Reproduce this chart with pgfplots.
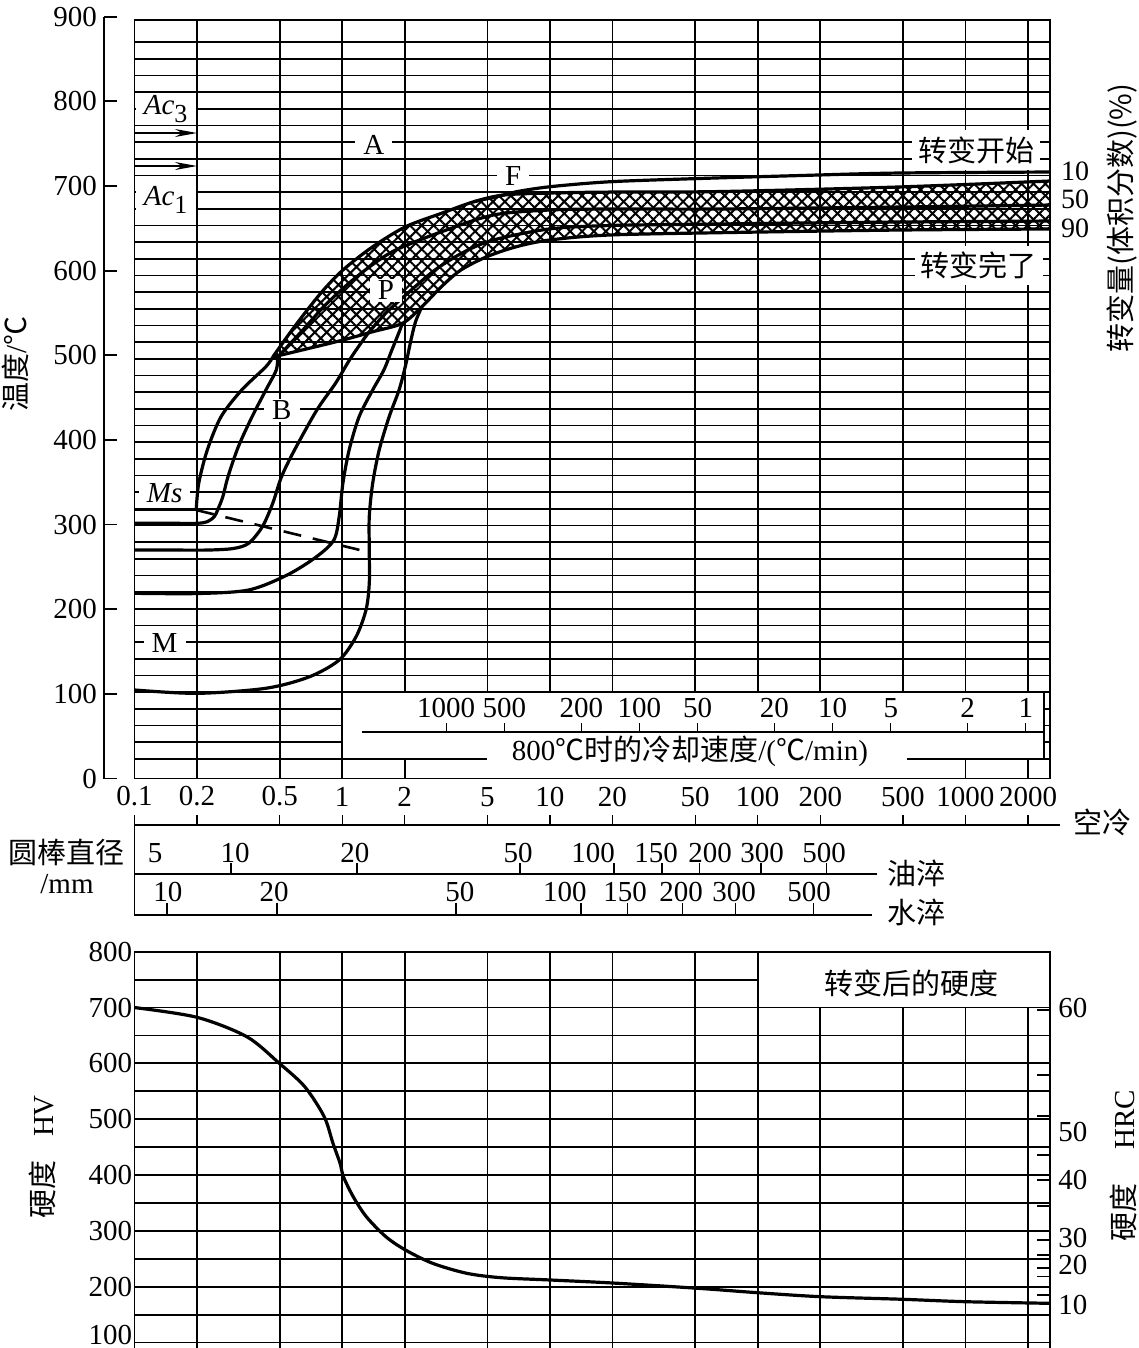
\documentclass[border=0pt]{standalone}
\usepackage{fontspec}
\setmainfont{Liberation Serif}
\newfontfamily\cjk{Noto Sans CJK SC}
\usepackage{pgfplots}
\pgfplotsset{compat=1.18}
\usetikzlibrary{patterns.meta,arrows.meta}

\newcommand\fs{\fontsize{14.5}{17}\selectfont}

\pgfplotsset{
  /pgf/number format/assume math mode=true,
  every axis/.append style={scale only axis},
  tick label style={font=\fs},
  gbox/.style={
    xtick={0.2,0.5,1,2,5,10,20,50,100,200,500,1000,2000},
    xticklabels={},
    major tick length=0pt, minor tick length=0pt,
    axis line style={line width=0.9pt},
    major grid style={black, line width=0.9pt},
    minor grid style={black, line width=0.9pt},
  },
  srow/.style={
    ymin=0, ymax=1, height=4pt, anchor=north west, clip=false,
    axis x line*=top, axis y line=none, xticklabels={},
    minor tick length=0pt,
    tick align=outside, tick style={black, line width=0.6pt},
    axis line style={line width=0.9pt},
  },
  curve/.style={black, line width=1.6pt, smooth, no markers},
}
\tikzset{lbl/.style={fill=white, inner xsep=4pt, inner ysep=1pt}}

\begin{document}
\begin{tikzpicture}[font=\fs]
\path[use as bounding box] (0,0) rectangle (569.5pt,-674pt);

% ---------- CCT diagram (grid) ----------
\begin{axis}[xmode=log, xmin=0.1, xmax=2553, width=457.775pt, gbox,
  at={(67.225pt,-389.25pt)}, anchor=south west,
  ymin=0, ymax=896.1, height=379.25pt,
  ytick={23.2,42.89,...,875}, yticklabels={}, grid=major]

  % hatched pearlite band (upper boundary, then lower boundary back)
  \addplot[draw=none, pattern={Hatch[angle=45,distance=4.2pt,line width=1pt]}]
    coordinates {
    (0.463,497.9) (0.5895,533.8) (0.7876,573.2) (1.0077,600.7) (1.402,628.2)
    (2.021,651.9) (3.002,667.7) (4.299,681.4) (5.963,689.3) (9.89,691.7)
    (19.38,692.8) (64.67,693.4) (473.2,698.8) (2553,705.9)
    (2553,649.2) (489,648.0) (72.33,645.0) (19.38,642.1) (9.97,636.2)
    (6.88,628.2) (4.963,616.4) (3.726,600.7) (3.002,581.0) (2.420,557.4)
    (1.950,537.8) (1.402,527.8) (1.0077,518.0) (0.6404,506.2) (0.463,497.9)} -- cycle;

  % band boundaries
  \addplot[curve] coordinates {
    (0.463,497.9) (0.5895,533.8) (0.7876,573.2) (1.0077,600.7) (1.402,628.2)
    (2.021,651.9) (3.002,667.7) (4.299,681.4) (5.963,689.3) (9.89,691.7)
    (19.38,692.8) (64.67,693.4) (473.2,698.8) (2553,705.9)};
  \addplot[curve] coordinates {
    (0.463,497.9) (0.6404,506.2) (1.0077,518.0) (1.402,527.8) (1.950,537.8)
    (2.420,557.4) (3.002,581.0) (3.726,600.7) (4.963,616.4) (6.88,628.2)
    (9.97,636.2) (19.38,642.1) (72.33,645.0) (489,648.0) (2553,649.2)};

  % transformation start (10 %)
  \addplot[curve] coordinates {
    (4.299,681.4) (5.963,689.3) (6.88,693.2) (9.97,699.1) (19.38,705.0)
    (51.7,708.8) (157,712.3) (473.2,715.3) (2553,716.5)};
  % inner lines
  \addplot[curve] coordinates {
    (0.4887,497.9) (0.6404,528.7) (0.8204,558.2) (1.080,585.4) (1.391,606.6)
    (1.811,624.4) (3.012,646.0) (5.342,665.7) (9.89,671.6) (19.38,672.8)
    (64.67,672.8) (473.2,675.1) (2553,677.5)};
  \addplot[curve] coordinates {
    (1.346,527.5) (1.623,549.9) (2.021,571.2) (2.794,600.7) (3.860,622.0)
    (5.342,636.2) (9.89,649.2) (19.38,653.3) (64.67,655.1) (473.2,657.4)
    (2553,658.6)};

  % lower curves
  \addplot[black, line width=1.6pt] coordinates {(0.1,317.4) (0.1983,317.4)};
  \addplot[curve] coordinates {
    (0.1983,317.2) (0.2039,348.7) (0.2242,388.1) (0.2611,427.4) (0.3284,459.0)
    (0.4293,486.5) (0.463,497.9)};
  \addplot[curve] coordinates {
    (0.1,301.5) (0.15,301.5) (0.2,301.5) (0.2242,303.4) (0.2421,309.3)
    (0.2514,317.2) (0.2663,332.9) (0.2820,356.5) (0.3163,392.0) (0.3683,427.4)
    (0.4293,459.0) (0.4816,482.6) (0.4887,497.9)};
  \addplot[curve] coordinates {
    (0.1,269.9) (0.15,269.9) (0.2242,269.9) (0.2986,271.7) (0.3545,277.9)
    (0.4128,297.5) (0.4630,325.1) (0.5104,356.5) (0.5895,388.1) (0.7551,435.3)
    (0.9284,466.9) (1.084,494.4) (1.232,514.5) (1.346,527.5)};
  \addplot[curve] coordinates {
    (0.1,218.8) (0.2,218.5) (0.3545,222.7) (0.5433,240.4) (0.7523,262.0)
    (0.9121,281.8) (0.9672,309.3) (1.0077,348.7) (1.080,388.1) (1.206,427.4)
    (1.402,459.0) (1.587,482.6) (1.734,506.2) (1.872,526.3) (1.950,537.8)};
  \addplot[curve] coordinates {
    (0.1,104.6) (0.2,100.6) (0.4293,106.6) (0.6959,120.2) (0.9672,140.0)
    (1.166,167.5) (1.302,199.1) (1.350,230.6) (1.350,269.9) (1.350,309.3)
    (1.402,348.7) (1.507,388.1) (1.683,427.4) (1.878,459.0) (2.021,488.5)
    (2.133,515.7) (2.252,539.3) (2.420,557.4)};
  % Ms
  \addplot[black, line width=1.3pt, dash pattern=on 9pt off 6pt]
    coordinates {(0.1983,317.2) (1.331,267.6)};

  % Ac3 / Ac1
  \node[fill=white, minimum width=30pt, minimum height=14pt, inner sep=0pt]
    at (axis cs:0.1414,791) {\textit{Ac}\raisebox{-4pt}{\fontsize{13}{14}\selectfont 3}};
  \node[fill=white, minimum width=30pt, minimum height=16pt, inner sep=0pt]
    at (axis cs:0.1414,684) {\textit{Ac}\raisebox{-4pt}{\fontsize{13}{14}\selectfont 1}};
  \draw[line width=0.7pt, -{Stealth[length=11pt,width=4pt]}] (axis cs:0.1,762.6) -- (axis cs:0.2,762.6);
  \draw[line width=0.7pt, -{Stealth[length=11pt,width=4pt]}] (axis cs:0.1,723.6) -- (axis cs:0.2,723.6);

  % cooling-rate box
  \fill[white] (axis cs:1,23.2) rectangle (axis cs:2390,102.0);
  \draw[line width=0.9pt] (axis cs:1,23.2) rectangle (axis cs:2390,102.0);
  \fill[white] (axis cs:4.977,1) rectangle (axis cs:521.9,45.5);
  \node at (axis cs:47.2,32.5) {800{\cjk ℃时的冷却速度}/({\cjk ℃}/min)};

  % labels
  \node[lbl] at (axis cs:1.422,748.4) {A};
  \node[lbl] at (axis cs:6.656,711.8) {F};
  \node[lbl] at (axis cs:1.623,577.1) {P};
  \node[lbl] at (axis cs:0.5124,435.3) {B};
  \node[lbl] at (axis cs:0.1397,337.3) {\textit{Ms}};
  \node[lbl] at (axis cs:0.1397,160.1) {M};
  \node[fill=white, inner xsep=3pt, inner ysep=3pt] at (axis cs:1130,742.5) {\cjk 转变开始};
  \node[fill=white, inner xsep=3pt, inner ysep=3pt] at (axis cs:1162,606.6) {\cjk 转变完了};
\end{axis}

% temperature tick axis
\begin{axis}[at={(52pt,-389.25pt)}, anchor=south west, width=20pt, height=380.925pt,
  xmin=0, xmax=1, ymin=0, ymax=900, axis y line*=left, axis x line=none, clip=false,
  ytick={0,100,...,900}, tick align=inside, major tick length=6.5pt,
  axis line style={line width=0.9pt}, tick style={black, line width=0.9pt}]
\end{axis}

% cooling rate at 800 C
\begin{axis}[xmode=log, srow, x dir=reverse, xmin=0.805, xmax=2728, width=341pt,
  at={(181pt,-365.85pt)}, xtick={1,2,5,10,20,50,100,200,500,1000},
  major tick length=4.3pt]
  \pgfplotsinvokeforeach{1,2,5,10,20,50,100,200,500,1000}{
    \node[anchor=south, inner sep=0pt, yshift=6.8pt] at (axis cs:#1,1) {#1};}
\end{axis}

% air cooling
\begin{axis}[xmode=log, srow, xmin=0.1, xmax=2851, width=462.775pt, at={(67.225pt,-412.5pt)},
  xtick={0.1,0.2,0.5,1,2,5,10,20,50,100,200,500,1000,2000},
  major tick length=5pt, axis line style={line width=1.3pt}]
  \pgfplotsinvokeforeach{0.1,0.2,0.5,1,2,5,10,20,50,100,200,500,1000,2000}{
    \node[anchor=south, inner sep=0pt, yshift=9.15pt] at (axis cs:#1,1) {#1};}
\end{axis}

% oil quench
\begin{axis}[xmode=log, srow, xmin=0.1, xmax=374.8, width=371.275pt, at={(67.225pt,-437pt)},
  xtick={0.2915,1.178,7.177,20.34,34.62,52.19,103.7,213.2},
  major tick length=5.5pt]
  \node[anchor=south, inner sep=0pt, yshift=5.35pt] at (axis cs:0.1256,1) {5};
  \node[anchor=south, inner sep=0pt, yshift=5.35pt] at (axis cs:0.3048,1) {10};
  \node[anchor=south, inner sep=0pt, yshift=5.35pt] at (axis cs:1.152,1) {20};
  \node[anchor=south, inner sep=0pt, yshift=5.35pt] at (axis cs:7.020,1) {50};
  \node[anchor=south, inner sep=0pt, yshift=5.35pt] at (axis cs:16.12,1) {100};
  \node[anchor=south, inner sep=0pt, yshift=5.35pt] at (axis cs:32.40,1) {150};
  \node[anchor=south, inner sep=0pt, yshift=5.35pt] at (axis cs:58.95,1) {200};
  \node[anchor=south, inner sep=0pt, yshift=5.35pt] at (axis cs:104.9,1) {300};
  \node[anchor=south, inner sep=0pt, yshift=5.35pt] at (axis cs:208.5,1) {500};
\end{axis}

% water quench
\begin{axis}[xmode=log, srow, xmin=0.1, xmax=354.4, width=368.775pt, at={(67.225pt,-457.5pt)},
  xtick={0.1434,0.4855,3.527,14.09,23.49,43.21,77.75,184.6},
  major tick length=6pt]
  \node[anchor=south, inner sep=0pt, yshift=6.65pt] at (axis cs:0.1450,1) {10};
  \node[anchor=south, inner sep=0pt, yshift=6.65pt] at (axis cs:0.4695,1) {20};
  \node[anchor=south, inner sep=0pt, yshift=6.65pt] at (axis cs:3.686,1) {50};
  \node[anchor=south, inner sep=0pt, yshift=6.65pt] at (axis cs:11.80,1) {100};
  \node[anchor=south, inner sep=0pt, yshift=6.65pt] at (axis cs:22.95,1) {150};
  \node[anchor=south, inner sep=0pt, yshift=6.65pt] at (axis cs:42.74,1) {200};
  \node[anchor=south, inner sep=0pt, yshift=6.65pt] at (axis cs:76.89,1) {300};
  \node[anchor=south, inner sep=0pt, yshift=6.65pt] at (axis cs:176.6,1) {500};
\end{axis}
\draw[line width=0.9pt] (67.225pt,-412.5pt) -- (67.225pt,-457.5pt);

% ---------- hardness ----------
\begin{axis}[xmode=log, xmin=0.1, xmax=2553, width=457.775pt, gbox,
  at={(67.225pt,-475.85pt)}, anchor=north west,
  ymin=85, ymax=800, height=199.59pt,
  ytick={200,300,...,800}, minor ytick={150,250,...,750},
  extra y ticks={100}, extra y tick style={yticklabel style={yshift=4pt}},
  xmajorgrids, ymajorgrids, yminorgrids,
  yticklabel style={inner sep=1pt}]
  \addplot[curve] coordinates {
    (0.1,700) (0.2,682.5) (0.3472,647.8) (0.4981,600.1) (0.6604,558.2)
    (0.8191,504.5) (0.9029,456.8) (0.9768,421) (1.014,397) (1.130,361.2)
    (1.307,325.3) (1.623,289.5) (2.016,265.7) (2.724,241.9) (3.975,224)
    (5.811,216.1) (10,212) (20,206.6) (51.68,197.1) (100,189.2)
    (200,182.1) (500,177.4) (1000,173.1) (2553,170.2)};
  \fill[white] (axis cs:100,700) rectangle (axis cs:2553,800);
  \draw[line width=0.9pt] (axis cs:100,700) rectangle (axis cs:2553,800);
  \node at (axis cs:553,744) {\cjk 转变后的硬度};
\end{axis}

% HRC scale
\begin{axis}[xmode=log, xmin=0.1, xmax=2553, width=457.775pt,
  at={(67.225pt,-475.85pt)}, anchor=north west, clip=false,
  ymin=85, ymax=800, height=199.59pt,
  axis y line*=right, axis x line=none,
  ytick={695.6,579.1,505.7,435.9,391.1,344.5,283.6,256.7,233.4,217.9,185.1},
  yticklabels={}, tick align=inside, major tick length=6.5pt,
  tick style={black, line width=0.8pt}, axis line style={line width=0.9pt}]
  \node[anchor=west, inner sep=0pt, xshift=4pt] at (axis cs:2553,699) {60};
  \node[anchor=west, inner sep=0pt, xshift=4pt] at (axis cs:2553,477.6) {50};
  \node[anchor=west, inner sep=0pt, xshift=4pt] at (axis cs:2553,391) {40};
  \node[anchor=west, inner sep=0pt, xshift=4pt] at (axis cs:2553,287.2) {30};
  \node[anchor=west, inner sep=0pt, xshift=4pt] at (axis cs:2553,238.8) {20};
  \node[anchor=west, inner sep=0pt, xshift=4pt] at (axis cs:2553,167) {10};
\end{axis}

% outer texts
\node[rotate=90] at (7.5pt,-182pt) {{\cjk 温度}/{\cjk ℃}};
\node[rotate=90] at (561pt,-109pt) {\cjk 转变量(体积分数)(\%)};
\node[inner sep=0pt, font=\fontsize{14}{15}\selectfont] at (537.5pt,-85.5pt) {10};
\node[inner sep=0pt, font=\fontsize{14}{15}\selectfont] at (537.5pt,-99.5pt) {50};
\node[inner sep=0pt, font=\fontsize{14}{15}\selectfont] at (537.5pt,-114pt) {90};
\node at (33.5pt,-426pt) {\cjk 圆棒直径};
\node at (33.5pt,-442pt) {/mm};
\node at (551pt,-411pt) {\cjk 空冷};
\node at (458pt,-436.5pt) {\cjk 油淬};
\node at (458pt,-456pt) {\cjk 水淬};
\node[rotate=90] at (21pt,-578.5pt) {{\cjk 硬度}\hspace{12pt}HV};
\node[rotate=90] at (561.5pt,-583pt) {{\cjk 硬度}\hspace{17pt}HRC};
\end{tikzpicture}
\end{document}
